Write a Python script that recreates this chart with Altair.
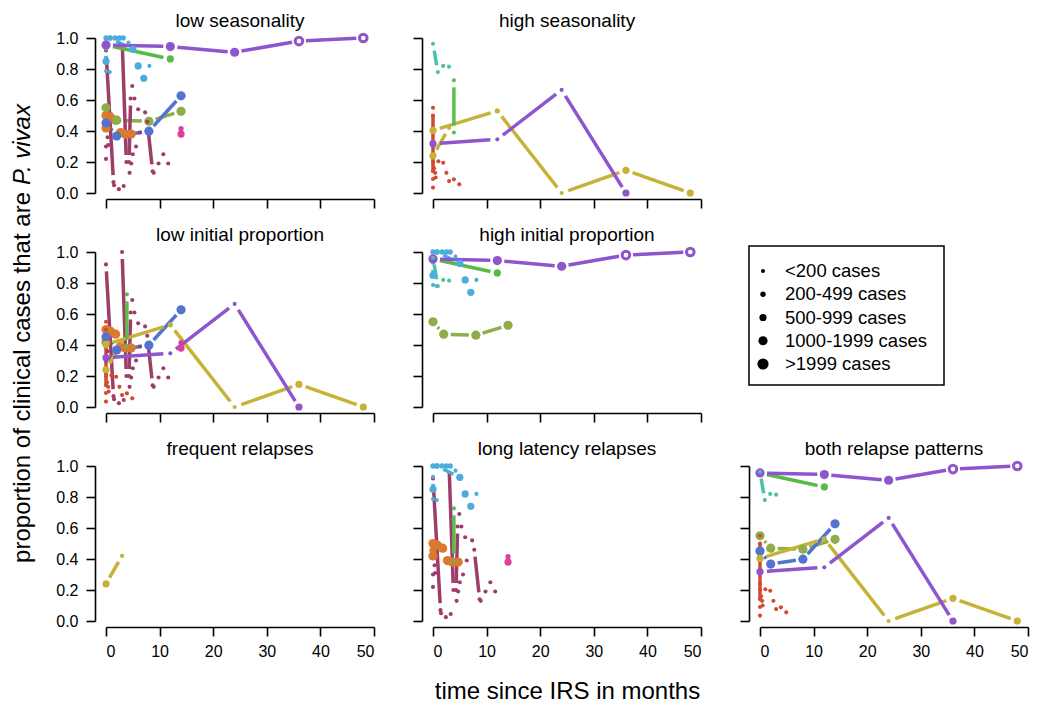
import math
import altair as alt
import pandas as pd

FONT = "Liberation Sans"
W, H = 268, 155
GAP = 7.0  # px gap between a point and its connecting line (R type="b")

# ---- colours -------------------------------------------------------------
C_PURPLE = "#8E55CC"
C_GOLD = "#C6B236"
C_GREEN = "#58B947"
C_LIME = "#5BBE4A"
C_TEAL = "#4EC0A6"
C_OLIVE = "#8FAE4A"
C_BLUE = "#5274CF"
C_CYAN = "#4BADDD"
C_RED = "#D34A32"
C_MAROON = "#9E3D68"
C_ORANGE = "#DA7A2E"
C_MAGENTA = "#DB3F9C"

# ---- data (time in months, proportion P. vivax, size class 1..5) --------
OR1_T = [0, 0.8, 1.8]
OR1_V = [0.50, 0.49, 0.47]
OR1_S = [4, 4, 4]
OR2_T = [2.7, 3.6, 4.7]
OR2_V = [0.39, 0.38, 0.38]
OR2_S = [4, 4, 4]
OR_DOT_T = [0, 0]
OR_DOT_V = [0.42, 0.455]
OR_DOT_S = [4, 3]

OL_T = [0, 2, 8, 14]
OL_V = [0.55, 0.47, 0.463, 0.527]
OL_S = [4, 4, 4, 4]

BL_T = [0, 2, 8, 14]
BL_V = [0.452, 0.367, 0.399, 0.627]
BL_S = [4, 4, 4, 4]

MR1_T = [0, 1.4]
MR1_V = [0.92, 0.07]
MR2_T = [3.0, 3.8]
MR2_V = [1.0, 0.20]
MR3_T = [4.3, 4.6]
MR3_V = [0.20, 0.61]
MR4_T = [7.7, 8.7]
MR4_V = [0.46, 0.14]
MR_DOT_T = [0, 0, 0.3, 0.4, 1.5, 2.4, 3.3, 4.4, 4.7, 5.0, 5.6, 6.3, 6.0, 7.3,
            8.9, 9.8, 10.7, 11.6, 5.3, 4.9]
MR_DOT_V = [0.30, 0.22, 0.36, 0.31, 0.05, 0.025, 0.045, 0.13, 0.19, 0.25, 0.30,
            0.39, 0.54, 0.52, 0.13, 0.19, 0.25, 0.19, 0.61, 0.69]

RD1_T = [0, 0]
RD1_V = [0.55, 0.09]
RD_DOT_T = [0, 0, 0, 0, 0, 1.0, 1.9, 2.5, 3.0, 3.9, 4.9, 0.5, 0.4, 0.2]
RD_DOT_V = [0.50, 0.24, 0.20, 0.14, 0.035, 0.205, 0.195, 0.13, 0.077, 0.088,
            0.056, 0.10, 0.13, 0.16]

CY_TOP_T = [0, 0.75, 1.7, 2.5, 3.2]
CY_TOP_V = [1.0, 1.0, 1.0, 1.0, 1.0]
CYL_T = [0.75, 5.0]
CYL_V = [1.0, 0.927]
CYL_S = [2, 3]
CYV_T = [0, 0]
CYV_V = [0.93, 0.787]
CY_DOT_T = [0, 6.0, 7.05, 8.1, 4.2, 0.7]
CY_DOT_V = [0.85, 0.82, 0.74, 0.82, 0.97, 0.78]
CY_DOT_S = [3, 3, 3, 1, 1, 1]

G1_T = [0, 12]
G1_V = [0.955, 0.865]
G1_S = [2, 3]

P1_T = [0, 12, 24, 36, 48]
P1_V = [0.955, 0.945, 0.908, 0.98, 1.0]
P1_S = [4, 4, 4, 5, 5]
P1_OPEN = [0, 0, 0, 1, 1]

GD1_T = [0, 12, 24, 36, 48]
GD1_V = [0.404, 0.53, 0.0, 0.146, 0.0]
GD1_S = [3, 2, 1, 3, 3]

GD2_T = [0, 3]
GD2_V = [0.24, 0.42]
GD2_S = [3, 1]

P2_T = [0, 12, 24, 36]
P2_V = [0.318, 0.346, 0.665, 0.0]
P2_S = [3, 1, 1, 3]

LM_T = [3.9, 3.9]
LM_V = [0.727, 0.39]

TL_T = [0, 0.9, 1.9, 3.0]
TL_V = [0.963, 0.78, 0.82, 0.815]

MG_T = [14, 14]
MG_V = [0.415, 0.38]
MG_S = [2, 3]

PANEL_TITLES = ["low seasonality", "high seasonality", "low initial proportion",
                "high initial proportion", "frequent relapses",
                "long latency relapses", "both relapse patterns"]
PANEL_GROUPS = [
    ["orange", "olive", "blue", "maroon", "cyan", "green1", "purple1", "magenta"],
    ["red", "gold1", "gold2", "purple2", "lime2", "teal"],
    ["orange", "blue", "maroon", "red", "gold1", "gold2", "purple2", "lime2", "magenta"],
    ["olive", "cyan", "teal", "green1", "purple1"],
    ["gold2"],
    ["orange", "maroon", "cyan", "lime2", "magenta"],
    ["olive", "blue", "red", "gold1", "purple2", "teal", "green1", "purple1"],
]

LEG_LABELS = ["<200 cases", "200-499 cases", "500-999 cases", "1000-1999 cases", ">1999 cases"]
LEG_S = ["1", "2", "3", "4", "5"]

# ---- build tables ---------------------------------------------------------
series = []


def add(group, col, t, v, s=None, o=None):
    n = len(t)
    series.append(dict(group=group, col=col, t=list(t), v=list(v),
                       s=list(s) if s else [1] * n,
                       o=list(o) if o else [0] * n))


def add_dots(group, col, t, v, s=None):
    for i in range(len(t)):
        add(group, col, [t[i]], [v[i]], [s[i]] if s else None)


add("orange", C_ORANGE, OR1_T, OR1_V, OR1_S)
add("orange", C_ORANGE, OR2_T, OR2_V, OR2_S)
add_dots("orange", C_ORANGE, OR_DOT_T, OR_DOT_V, OR_DOT_S)
add("olive", C_OLIVE, OL_T, OL_V, OL_S)
add("blue", C_BLUE, BL_T, BL_V, BL_S)
add("maroon", C_MAROON, MR1_T, MR1_V)
add("maroon", C_MAROON, MR2_T, MR2_V)
add("maroon", C_MAROON, MR3_T, MR3_V)
add("maroon", C_MAROON, MR4_T, MR4_V)
add_dots("maroon", C_MAROON, MR_DOT_T, MR_DOT_V)
add("red", C_RED, RD1_T, RD1_V)
add_dots("red", C_RED, RD_DOT_T, RD_DOT_V)
add_dots("cyan", C_CYAN, CY_TOP_T, CY_TOP_V, [2] * len(CY_TOP_T))
add("cyan", C_CYAN, CYL_T, CYL_V, CYL_S)
add("cyan", C_CYAN, CYV_T, CYV_V)
add_dots("cyan", C_CYAN, CY_DOT_T, CY_DOT_V, CY_DOT_S)
add("green1", C_GREEN, G1_T, G1_V, G1_S)
add("purple1", C_PURPLE, P1_T, P1_V, P1_S, P1_OPEN)
add("gold1", C_GOLD, GD1_T, GD1_V, GD1_S)
add("gold2", C_GOLD, GD2_T, GD2_V, GD2_S)
add("purple2", C_PURPLE, P2_T, P2_V, P2_S)
add("lime2", C_LIME, LM_T, LM_V)
add("teal", C_TEAL, TL_T, TL_V)
add("magenta", C_MAGENTA, MG_T, MG_V, MG_S)

KX = W / 50.0
KY = H / 1.0
pt_rows, seg_rows = [], []
order = 0
for sid, sr in enumerate(series):
    for i in range(len(sr["t"])):
        pt_rows.append(dict(group=sr["group"], sid=sid, t=sr["t"][i], v=sr["v"][i],
                            s=str(sr["s"][i]), open=sr["o"][i], col=sr["col"], order=order))
        order += 1
        if i + 1 < len(sr["t"]):
            t1, v1, t2, v2 = sr["t"][i], sr["v"][i], sr["t"][i + 1], sr["v"][i + 1]
            dx, dy = (t2 - t1) * KX, (v2 - v1) * KY
            d = math.hypot(dx, dy)
            if d > 2 * GAP + 1:
                f = GAP / d
                seg_rows.append(dict(group=sr["group"], col=sr["col"],
                                     t1=t1 + f * (t2 - t1), v1=v1 + f * (v2 - v1),
                                     t2=t2 - f * (t2 - t1), v2=v2 - f * (v2 - v1)))
pts = pd.DataFrame(pt_rows)
segs = pd.DataFrame(seg_rows)

SIZE_SCALE = alt.Scale(type="ordinal", domain=LEG_S, range=[17, 28, 52, 85, 125])


def title_mark(txt):
    return alt.Chart(pd.DataFrame({"txt": [txt]})).mark_text(
        align="center", baseline="alphabetic", fontSize=19, font=FONT, color="black").encode(
        x=alt.value(W / 2), y=alt.value(-11), text="txt:N")


def panel(idx, xlabels, ylabels, xtitle=None, extra=None):
    groups = PANEL_GROUPS[idx]
    xs = alt.Scale(domain=[0, 50], nice=False, zero=False)
    ys = alt.Scale(domain=[0, 1], nice=False)
    xaxis = alt.Axis(values=[0, 10, 20, 30, 40, 50], labels=xlabels, offset=6,
                     tickSize=9, labelPadding=7, grid=False,
                     title=xtitle if xtitle else "", titlePadding=20)
    yaxis = alt.Axis(values=[0, 0.2, 0.4, 0.6, 0.8, 1.0], format=".1f",
                     labels=ylabels, offset=11, tickSize=9, labelPadding=8,
                     grid=False, title="")
    sd = segs[segs.group.isin(groups)]
    pd_ = pts[pts.group.isin(groups)]
    filled = pd_[pd_.open == 0]
    opened = pd_[pd_.open == 1]
    layers = []
    if len(sd):
        layers.append(alt.Chart(sd).mark_rule(strokeWidth=3.5, strokeCap="butt").encode(
            x=alt.X("t1:Q", scale=xs, axis=xaxis),
            y=alt.Y("v1:Q", scale=ys, axis=yaxis),
            x2="t2:Q", y2="v2:Q",
            color=alt.Color("col:N", scale=None)))
    layers.append(alt.Chart(filled).mark_circle(opacity=1).encode(
        x=alt.X("t:Q", scale=xs, axis=xaxis),
        y=alt.Y("v:Q", scale=ys, axis=yaxis),
        size=alt.Size("s:N", scale=SIZE_SCALE, legend=None),
        color=alt.Color("col:N", scale=None),
        order=alt.Order("order:Q")))
    if len(opened):
        layers.append(alt.Chart(opened).mark_point(filled=False, fill="white",
                                                   strokeWidth=3, opacity=1, size=58).encode(
            x=alt.X("t:Q", scale=xs, axis=xaxis),
            y=alt.Y("v:Q", scale=ys, axis=yaxis),
            color=alt.Color("col:N", scale=None)))
    layers.append(title_mark(PANEL_TITLES[idx]))
    if extra:
        layers.extend(extra)
    return alt.layer(*layers).properties(width=W, height=H)


ytitle1 = alt.Chart(pd.DataFrame({"txt": ["proportion of clinical cases that are"]})).mark_text(
    angle=270, align="right", baseline="middle", fontSize=24, font=FONT, color="black").encode(
    x=alt.value(-83), y=alt.value(-60), text="txt:N")
ytitle2 = alt.Chart(pd.DataFrame({"txt": ["P. vivax"]})).mark_text(
    angle=270, align="left", baseline="middle", fontSize=24, font=FONT, color="black",
    fontStyle="italic").encode(
    x=alt.value(-83), y=alt.value(-67), text="txt:N")

pA = panel(0, False, True)
pB = panel(1, False, False)
pC = panel(2, False, True, extra=[ytitle1, ytitle2])
pD = panel(3, False, False)
pE = panel(4, True, True)
pF = panel(5, True, False, xtitle="time since IRS in months")
pG = panel(6, True, False)

leg = pd.DataFrame({"label": LEG_LABELS, "s": LEG_S})
ly = alt.Y("label:N", sort=LEG_LABELS, axis=None,
           scale=alt.Scale(type="point", range=[19, 112], padding=0))
leg_box = alt.Chart(pd.DataFrame({"a": [0]})).mark_rect(
    fillOpacity=0, stroke="black", strokeWidth=1.5).encode(
    x=alt.value(-11), x2=alt.value(184), y=alt.value(-6), y2=alt.value(133))
leg_dots = alt.Chart(leg).mark_circle(opacity=1, color="black").encode(
    x=alt.value(3), y=ly, size=alt.Size("s:N", scale=SIZE_SCALE, legend=None))
leg_text = alt.Chart(leg).mark_text(align="left", baseline="middle", fontSize=18.5,
                                    font=FONT, color="black").encode(
    x=alt.value(25), y=ly, text="label:N")
pLeg = alt.layer(leg_box, leg_dots, leg_text).properties(width=W, height=H)

pEmpty = alt.Chart(pd.DataFrame({"a": [0]})).mark_point(opacity=0).encode(
    x=alt.value(0), y=alt.value(0)).properties(width=W, height=H)

chart = alt.concat(pA, pB, pEmpty, pC, pD, pLeg, pE, pF, pG,
                   columns=3, spacing=59, bounds="flush").properties(
    padding={"left": 2, "top": 4, "right": 5, "bottom": 0}
).configure(background="white").configure_view(strokeWidth=0).configure_axis(
    domainColor="black", tickColor="black", domainWidth=1.6, tickWidth=1.6,
    labelColor="black", labelFont=FONT, labelFontSize=16, titleFont=FONT,
    titleFontSize=24, titleColor="black", titleFontWeight="normal"
)

chart.save("out.html", embed_options={"renderer": "svg", "actions": False})
